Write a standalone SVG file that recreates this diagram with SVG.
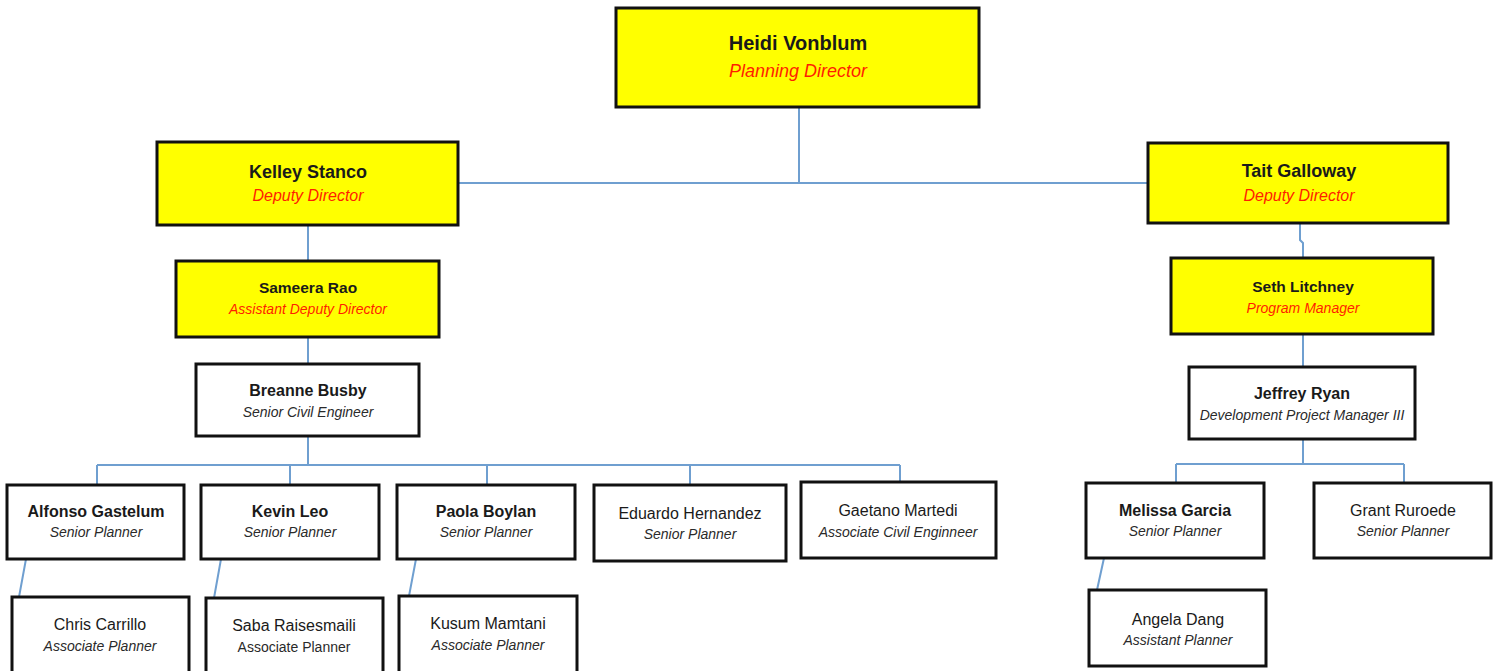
<svg xmlns="http://www.w3.org/2000/svg" width="1496" height="671" viewBox="0 0 1496 671">
<style>
.box{stroke:#111;stroke-width:3}
.y{fill:#ffff00}
.w{fill:#ffffff}
text{font-family:"Liberation Sans",Arial,sans-serif;text-anchor:middle}
.nm{font-weight:bold;fill:#1a1a1a}
.nr{fill:#1a1a1a}
.rr{font-style:italic;fill:#ff1e00}
.rg{font-style:italic;fill:#2a2a2a}
.rp{fill:#2a2a2a}
.c{fill:none;stroke:#6f9fd0;stroke-width:2}
</style>
<rect width="1496" height="671" fill="#ffffff"/>
<g id="connectors">
<path class="c" d="M799 107V183M458 183H1148"/>
<path class="c" d="M308 225V261M308 337V364M308 436V465M97 465H900M97 465V485M290 465V485M487 465V485M690 465V485M900 465V482"/>
<path class="c" d="M26 559L19 597M221 559L214 598M416 559L409 596"/>
<path class="c" d="M1300 223V240L1303 243V258M1303 334V367M1303 439V464M1176 464H1404M1176 464V483M1404 464V483"/>
<path class="c" d="M1104 558L1097 590"/>
</g>
<g id="heidi"><rect class="box y" x="616" y="8" width="363" height="99"/><text class="nm" x="798" y="50" font-size="20">Heidi Vonblum</text><text class="rr" x="798" y="77" font-size="18">Planning Director</text></g>
<g id="kelley"><rect class="box y" x="157" y="142" width="301" height="83"/><text class="nm" x="308" y="178" font-size="18">Kelley Stanco</text><text class="rr" x="308" y="201" font-size="16">Deputy Director</text></g>
<g id="tait"><rect class="box y" x="1148" y="143" width="300" height="80"/><text class="nm" x="1299" y="177" font-size="18">Tait Galloway</text><text class="rr" x="1299" y="201" font-size="16">Deputy Director</text></g>
<g id="sameera"><rect class="box y" x="176" y="261" width="263" height="76"/><text class="nm" x="308" y="293" font-size="15.5">Sameera Rao</text><text class="rr" x="308" y="314" font-size="14">Assistant Deputy Director</text></g>
<g id="seth"><rect class="box y" x="1171" y="258" width="262" height="76"/><text class="nm" x="1303" y="292" font-size="15.5">Seth Litchney</text><text class="rr" x="1303" y="313" font-size="14">Program Manager</text></g>
<g id="breanne"><rect class="box w" x="196" y="364" width="223" height="72"/><text class="nm" x="308" y="396" font-size="16">Breanne Busby</text><text class="rg" x="308" y="417" font-size="14">Senior Civil Engineer</text></g>
<g id="jeffrey"><rect class="box w" x="1189" y="367" width="226" height="72"/><text class="nm" x="1302" y="399" font-size="16">Jeffrey Ryan</text><text class="rg" x="1302" y="420" font-size="14">Development Project Manager III</text></g>
<g id="alfonso"><rect class="box w" x="7" y="485" width="177" height="74"/><text class="nm" x="96" y="517" font-size="16">Alfonso Gastelum</text><text class="rg" x="96" y="537" font-size="14">Senior Planner</text></g>
<g id="kevin"><rect class="box w" x="201" y="485" width="178" height="74"/><text class="nm" x="290" y="517" font-size="16">Kevin Leo</text><text class="rg" x="290" y="537" font-size="14">Senior Planner</text></g>
<g id="paola"><rect class="box w" x="397" y="485" width="178" height="74"/><text class="nm" x="486" y="517" font-size="16">Paola Boylan</text><text class="rg" x="486" y="537" font-size="14">Senior Planner</text></g>
<g id="eduardo"><rect class="box w" x="594" y="485" width="192" height="76"/><text class="nr" x="690" y="519" font-size="16">Eduardo Hernandez</text><text class="rg" x="690" y="539" font-size="14">Senior Planner</text></g>
<g id="gaetano"><rect class="box w" x="801" y="482" width="195" height="76"/><text class="nr" x="898" y="516" font-size="16">Gaetano Martedi</text><text class="rg" x="898" y="537" font-size="14">Associate Civil Enginneer</text></g>
<g id="chris"><rect class="box w" x="12" y="597" width="177" height="80"/><text class="nr" x="100" y="630" font-size="16">Chris Carrillo</text><text class="rg" x="100" y="651" font-size="14">Associate Planner</text></g>
<g id="saba"><rect class="box w" x="206" y="598" width="177" height="80"/><text class="nr" x="294" y="631" font-size="16">Saba Raisesmaili</text><text class="rp" x="294" y="652" font-size="14">Associate Planner</text></g>
<g id="kusum"><rect class="box w" x="399" y="596" width="178" height="80"/><text class="nr" x="488" y="629" font-size="16">Kusum Mamtani</text><text class="rg" x="488" y="650" font-size="14">Associate Planner</text></g>
<g id="melissa"><rect class="box w" x="1086" y="483" width="178" height="75"/><text class="nm" x="1175" y="516" font-size="16">Melissa Garcia</text><text class="rg" x="1175" y="536" font-size="14">Senior Planner</text></g>
<g id="grant"><rect class="box w" x="1314" y="483" width="177" height="75"/><text class="nr" x="1403" y="516" font-size="16">Grant Ruroede</text><text class="rg" x="1403" y="536" font-size="14">Senior Planner</text></g>
<g id="angela"><rect class="box w" x="1089" y="590" width="177" height="76"/><text class="nr" x="1178" y="625" font-size="16">Angela Dang</text><text class="rg" x="1178" y="645" font-size="14">Assistant Planner</text></g>
</svg>
